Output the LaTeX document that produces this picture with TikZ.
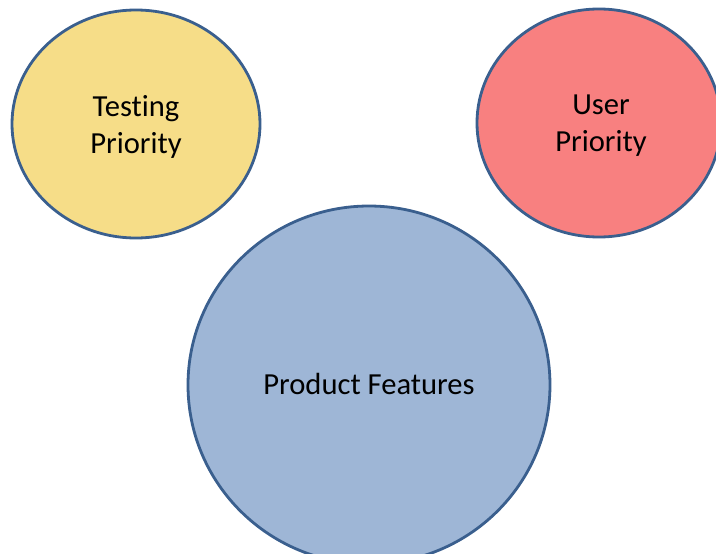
\documentclass[tikz,border=0pt]{standalone}
\usepackage{fontspec}
\setmainfont[Ligatures={NoCommon}]{Carlito}
\usetikzlibrary{shapes.geometric}
\definecolor{rimblue}{HTML}{3A5F8E}
\definecolor{sandfill}{HTML}{F6DD88}
\definecolor{rosefill}{HTML}{F88080}
\definecolor{skyfill}{HTML}{9EB6D6}
\tikzset{
  bubble/.style={ellipse, draw=rimblue, line width=2.8pt, inner sep=0pt},
  caption/.style={align=center, inner sep=0pt,
    font=\fontsize{30.6}{37}\selectfont, text=black},
}
\begin{document}
\begin{tikzpicture}[x=1pt,y=-1pt]
  \useasboundingbox (0,0) rectangle (716,554);
  \clip (0,0) rectangle (716,554);
  \fill[white] (0,0) rectangle (716,554);
  % three priority / feature bubbles
  \node[bubble, fill=sandfill, minimum width=248pt, minimum height=228pt] (testing) at (136,124) {};
  \node[bubble, fill=rosefill, minimum width=244pt, minimum height=228pt] (user) at (599,123) {};
  \node[bubble, fill=skyfill, minimum width=362pt, minimum height=358pt] (features) at (369,385) {};
  % their captions
  \node[caption] (testingtext) at ([yshift=-3pt]testing.center) {Testing\\Priority};
  \node[caption] (usertext) at ([yshift=-3pt,xshift=2pt]user.center) {User\\Priority};
  \node[caption] (featurestext) at ([yshift=1pt]features.center) {Product Features};
\end{tikzpicture}
\end{document}
